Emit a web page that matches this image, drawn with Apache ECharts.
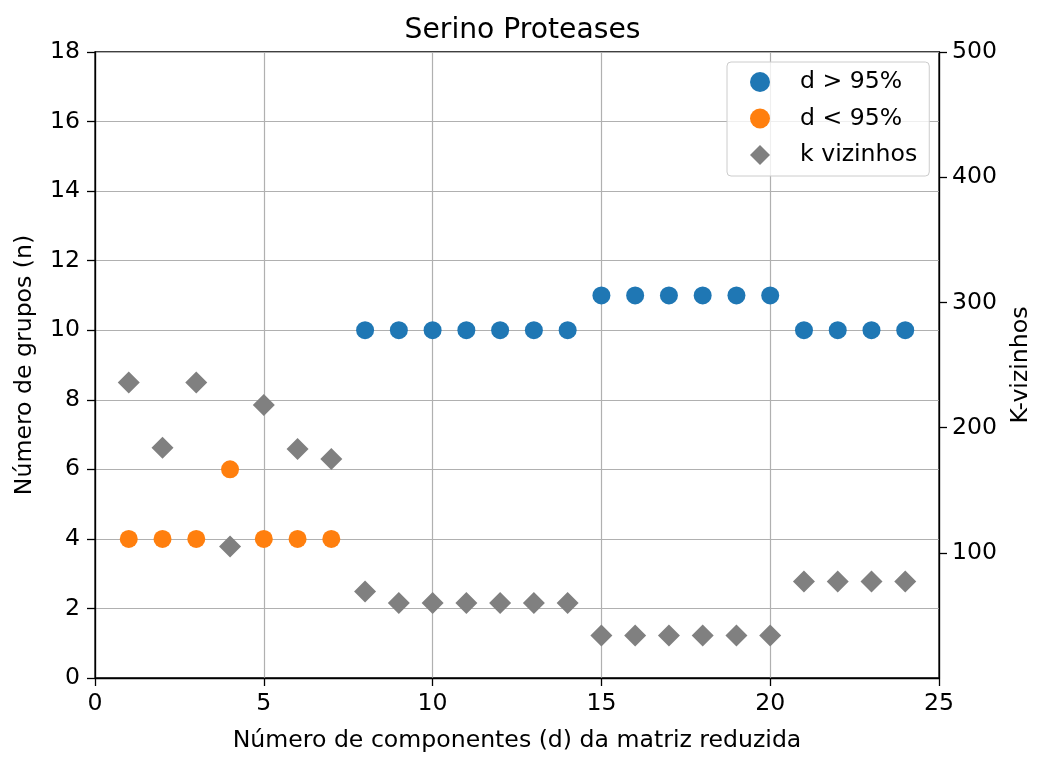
<!DOCTYPE html>
<html>
<head>
<meta charset="utf-8">
<script src="https://cdn.jsdelivr.net/npm/echarts@6/dist/echarts.min.js"></script>
<style>
html,body{margin:0;padding:0;background:#fff;}
#chart{width:1041px;height:758px;}
</style>
</head>
<body>
<div id="chart"></div>
<script>
// Data
const titleText = "Serino Proteases";
const xTicks = [0, 5, 10, 15, 20, 25];
const leftTicks = [0, 2, 4, 6, 8, 10, 12, 14, 16, 18];
const rightTicks = [100, 200, 300, 400, 500];

const aboveX = [8, 9, 10, 11, 12, 13, 14, 15, 16, 17, 18, 19, 20, 21, 22, 23, 24];
const aboveY = [10, 10, 10, 10, 10, 10, 10, 11, 11, 11, 11, 11, 11, 10, 10, 10, 10];

const belowX = [1, 2, 3, 4, 5, 6, 7];
const belowY = [4, 4, 4, 6, 4, 4, 4];

const kX = [1, 2, 3, 4, 5, 6, 7, 8, 9, 10, 11, 12, 13, 14, 15, 16, 17, 18, 19, 20, 21, 22, 23, 24];
const kY = [236, 184, 236, 105, 218, 183, 175, 69, 60, 60, 60, 60, 60, 60, 34, 34, 34, 34, 34, 34, 77, 77, 77, 77];

const zip = (xs, ys) => xs.map((x, i) => [x, ys[i]]);

const FONT = "DejaVu Sans";
const FS = 23.6;
const chart = echarts.init(document.getElementById('chart'), null, {renderer: 'canvas'});

chart.setOption({
  animation: false,
  backgroundColor: '#ffffff',
  textStyle: {fontFamily: FONT, color: '#000'},
  title: {
    text: titleText,
    left: 517.5,
    textAlign: 'center',
    top: 12,
    textStyle: {fontFamily: FONT, fontSize: 28.2, fontWeight: 'normal', color: '#000'}
  },
  grid: {
    left: 95, right: 101, top: 52, bottom: 78,
    show: true, borderColor: '#000', borderWidth: 1.3, backgroundColor: 'transparent'
  },
  legend: {
    orient: 'vertical',
    left: 727, top: 62,
    padding: [8, 12, 9, 23],
    itemGap: 12.5,
    itemWidth: 20, itemHeight: 20,
    backgroundColor: 'rgba(255,255,255,0.8)',
    borderColor: '#cccccc', borderWidth: 1, borderRadius: 4,
    textStyle: {fontFamily: FONT, fontSize: FS, color: '#000', padding: [0, 0, 0, 25]},
    data: [
      {name: 'd > 95%', icon: 'circle'},
      {name: 'd < 95%', icon: 'circle'},
      {name: 'k vizinhos', icon: 'diamond'}
    ]
  },
  xAxis: {
    type: 'value', min: xTicks[0], max: xTicks[xTicks.length - 1], interval: 5,
    name: 'Número de componentes (d) da matriz reduzida',
    nameLocation: 'middle', nameGap: 51,
    nameTextStyle: {fontFamily: FONT, fontSize: FS, color: '#000'},
    axisLine: {show: true, onZero: false, lineStyle: {color: '#000', width: 1.3}},
    axisTick: {show: true, inside: false, length: 8, lineStyle: {color: '#000', width: 1.3}},
    axisLabel: {fontFamily: FONT, fontSize: FS, color: '#000', margin: 14},
    splitLine: {show: true, lineStyle: {color: '#b0b0b0', width: 1.2}}
  },
  yAxis: [
    {
      type: 'value', min: leftTicks[0], max: leftTicks[leftTicks.length - 1], interval: 2,
      position: 'left',
      name: 'Número de grupos (n)',
      nameLocation: 'middle', nameGap: 58,
      nameTextStyle: {fontFamily: FONT, fontSize: FS, color: '#000'},
      axisLine: {show: true, onZero: false, lineStyle: {color: '#000', width: 1.3}},
      axisTick: {show: true, inside: false, length: 8, lineStyle: {color: '#000', width: 1.3}},
      axisLabel: {fontFamily: FONT, fontSize: FS, color: '#000', margin: 15},
      splitLine: {show: true, lineStyle: {color: '#b0b0b0', width: 1.2}}
    },
    {
      type: 'value', min: 0, max: rightTicks[rightTicks.length - 1], interval: 100,
      position: 'right',
      name: 'K-vizinhos',
      nameLocation: 'middle', nameGap: 70,
      nameRotate: 90,
      nameTextStyle: {fontFamily: FONT, fontSize: FS, color: '#000'},
      axisLine: {show: true, onZero: false, lineStyle: {color: '#000', width: 1.3}},
      axisTick: {show: true, inside: false, length: 8, lineStyle: {color: '#000', width: 1.3},
                 customValues: rightTicks},
      axisLabel: {fontFamily: FONT, fontSize: FS, color: '#000', margin: 13,
                  customValues: rightTicks},
      splitLine: {show: false}
    }
  ],
  series: [
    {
      name: 'd > 95%', type: 'scatter', xAxisIndex: 0, yAxisIndex: 0,
      symbol: 'circle', symbolSize: 18,
      itemStyle: {color: '#1f77b4', opacity: 1},
      data: zip(aboveX, aboveY), z: 3
    },
    {
      name: 'd < 95%', type: 'scatter', xAxisIndex: 0, yAxisIndex: 0,
      symbol: 'circle', symbolSize: 18,
      itemStyle: {color: '#ff7f0e', opacity: 1},
      data: zip(belowX, belowY), z: 3
    },
    {
      name: 'k vizinhos', type: 'scatter', xAxisIndex: 0, yAxisIndex: 1,
      symbol: 'diamond', symbolSize: 22,
      itemStyle: {color: '#808080', opacity: 1},
      data: zip(kX, kY), z: 4
    }
  ]
});
</script>
</body>
</html>
